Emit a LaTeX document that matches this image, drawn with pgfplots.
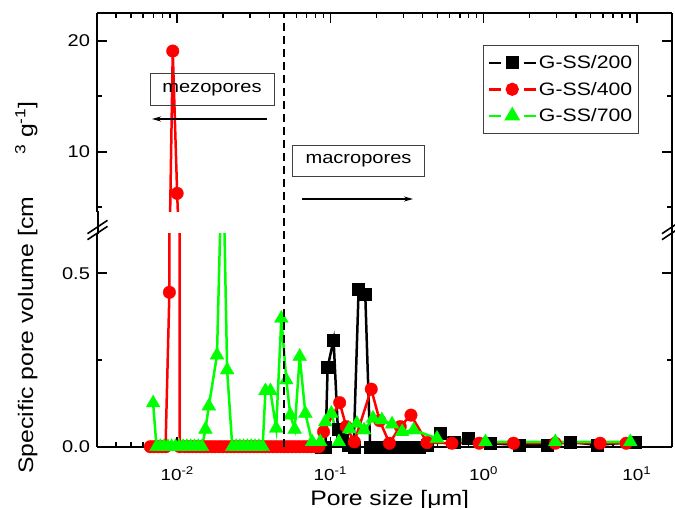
\documentclass[border=0pt]{standalone}
\usepackage{fontspec}
\setmainfont{Liberation Sans}[FakeStretch=1.18]
\usepackage{pgfplots}
\pgfplotsset{compat=1.18}
\usetikzlibrary{arrows.meta}
\definecolor{ogreen}{RGB}{0,255,0}
\definecolor{ored}{RGB}{255,0,0}
\tikzset{
  s200/.style={black, line width=2.5pt, mark=square*, mark size=6pt, mark options={line width=0.3pt}},
  s400/.style={ored, line width=2.5pt, mark=*, mark size=6.3pt, mark options={line width=0.3pt}},
  s700/.style={ogreen, line width=2.5pt, mark=triangle*, mark size=8pt, mark options={line width=0.3pt}},
}
\pgfplotsset{
  mybase/.style={scale only axis, width=574.5pt, xmin=0.00302, xmax=17,
    tick align=inside, major tick length=10pt, minor tick length=5pt,
    axis line style={line width=2pt, black},
    every tick/.style={line width=1.6pt, black},
    xticklabel style={font=\fontsize{16}{18}\selectfont},
    yticklabel style={font=\fontsize{17}{19}\selectfont},
    xtick={0.01,0.1,1,10},
    minor xtick={0.004,0.005,0.006,0.007,0.008,0.009,0.02,0.03,0.04,0.05,0.06,0.07,0.08,0.09,0.2,0.3,0.4,0.5,0.6,0.7,0.8,0.9,2,3,4,5,6,7,8,9},
  }
}
\begin{document}
\begin{tikzpicture}
% lower panel
\begin{axis}[xmode=log, mybase, name=lower, at={(97.5pt,-446.7pt)}, anchor=south west, height=213.7pt,
  ymin=0, ymax=0.616, axis x line*=bottom, axis y line*=box,
  ytick={0,0.5}, yticklabels={\mbox{0.0},\mbox{0.5}}, minor ytick={0.25},
  xticklabels={\mbox{10\textsuperscript{-2}},\mbox{10\textsuperscript{-1}},\mbox{10\textsuperscript{0}},\mbox{10\textsuperscript{1}}},
  xticklabel style={anchor=base, yshift=-34pt},
  yticklabel style={xshift=-4pt}]
\addplot[s200] coordinates {(0.087,0) (0.093,0) (0.096,0.229) (0.105,0.308) (0.112,0.05) (0.12,0.02) (0.13,0.005) (0.142,0) (0.153,0.454) (0.169,0.44) (0.182,0) (0.2,0) (0.22,0) (0.24,0) (0.265,0) (0.29,0) (0.32,0) (0.35,0) (0.38,0) (0.43,0.005) (0.522,0.038) (0.64,0.014) (0.798,0.024) (1.1,0.01) (1.7,0.005) (2.6,0.005) (3.68,0.014) (5.5,0.005) (9.78,0.014)};
\addplot[s400] coordinates {(0.00668,0) (0.00708,0) (0.0075,0) (0.00794,0) (0.0084,0) (0.0089,0.445) (0.00936,19.07) (0.0100,6.25) (0.0104,0) (0.01122,0) (0.01189,0) (0.01259,0) (0.01334,0) (0.01413,0) (0.01496,0) (0.01585,0) (0.01679,0) (0.01778,0) (0.01884,0) (0.01995,0) (0.02113,0) (0.02239,0) (0.02371,0) (0.02512,0) (0.02661,0) (0.02818,0) (0.02985,0) (0.03162,0) (0.0335,0) (0.03548,0) (0.03758,0) (0.03981,0) (0.04217,0) (0.04467,0) (0.04732,0) (0.05012,0) (0.05309,0) (0.05623,0) (0.05957,0) (0.0631,0) (0.06683,0) (0.07079,0) (0.07499,0) (0.07943,0) (0.08414,0) (0.0903,0.043) (0.115,0.127) (0.127,0.058) (0.1435,0.014) (0.185,0.166) (0.21,0.075) (0.243,0.01) (0.286,0.058) (0.336,0.091) (0.428,0.012) (0.622,0.01) (0.937,0.01) (1.57,0.01) (2.94,0.01) (5.77,0.01) (8.53,0.01)};
\addplot[s700] coordinates {(0.00697,0.126) (0.00733,0) (0.00776,0) (0.00822,0) (0.0087,0) (0.00921,0) (0.00975,0) (0.01032,0) (0.01093,0) (0.01157,0) (0.01225,0) (0.01297,0) (0.01373,0) (0.01454,0) (0.0153,0.05) (0.0161,0.117) (0.0182,0.264) (0.0198,0.9) (0.0212,0.221) (0.0229,0) (0.02425,0) (0.02567,0) (0.02718,0) (0.02878,0) (0.03047,0) (0.03226,0) (0.03416,0) (0.03617,0) (0.0377,0.161) (0.0406,0.161) (0.0443,0.053) (0.0479,0.37) (0.0516,0.192) (0.0548,0.091) (0.0585,0.05) (0.0631,0.26) (0.0687,0.096) (0.076,0.014) (0.086,0.014) (0.0927,0.071) (0.1016,0.096) (0.1137,0.014) (0.133,0.051) (0.149,0.067) (0.166,0.048) (0.19,0.082) (0.217,0.077) (0.253,0.065) (0.294,0.043) (0.35,0.048) (0.497,0.024) (1.03,0.014) (2.94,0.014) (9.08,0.014)};
\coordinate (dl) at (axis cs:0.05,0);
\end{axis}
% upper panel
\begin{axis}[xmode=log, mybase, name=upper, at={(97.5pt,-212pt)}, anchor=south west, height=198.7pt,
  ymin=4.57, ymax=22.47, axis x line*=top, axis y line*=box,
  ytick={10,20}, yticklabels={\mbox{10},\mbox{20}}, minor ytick={5,15}, xticklabels={,,,},
  yticklabel style={xshift=-4pt},
  legend image code/.code={
    \draw[#1, mark=none] (0pt,0pt) -- (12pt,0pt);
    \draw[#1, mark=none] (35pt,0pt) -- (47pt,0pt);
    \draw[#1, only marks, mark options={scale=0.85}] plot coordinates {(23.5pt,0pt)};
  },
  legend style={at={(0.671,0.8405)}, anchor=north west, draw=black!75, line width=1pt,
    font=\fontsize{18}{21}\selectfont, nodes={font=\fontsize{18}{21}\selectfont},
    row sep=8pt, inner xsep=4pt, inner ysep=8pt},
  legend cell align=left]
\addplot[s400, forget plot] coordinates {(0.0084,0) (0.0089,0.445) (0.00936,19.07) (0.0100,6.25) (0.0104,0)};
\addlegendimage{s200}
\addlegendimage{s400}
\addlegendimage{s700}
\legend{G-SS/200,G-SS/400,G-SS/700}
\coordinate (du) at (axis cs:0.05,22.47);
\end{axis}
% spines through the break
\draw[line width=2pt] (97.5pt,-211pt) -- (97.5pt,-234pt);
\draw[line width=2pt] (672pt,-211pt) -- (672pt,-234pt);
\foreach \xx in {97.5,672}{
  \draw[line width=1.6pt] (\xx pt-10pt,-233.7pt) -- (\xx pt+10pt,-220.3pt);
  \draw[line width=1.6pt] (\xx pt-10pt,-239.7pt) -- (\xx pt+10pt,-226.3pt);
}
% dashed boundary
\draw[line width=2pt, dash pattern=on 8pt off 5pt] (dl) -- (du);
% annotations
\node[draw=black!75, line width=1pt, minimum width=124pt, minimum height=32pt, inner sep=0pt,
  font=\fontsize{17}{20}\selectfont] at (212pt,-90pt) {mezopores};
\node[draw=black!75, line width=1pt, minimum width=131.6pt, minimum height=31.7pt, inner sep=0pt,
  font=\fontsize{17}{20}\selectfont] at (358.5pt,-161pt) {macropores};
\draw[line width=1.3pt, -{Stealth[length=9pt,width=5pt]}] (267pt,-119pt) -- (152pt,-119pt);
\draw[line width=1.3pt, -{Stealth[length=9pt,width=5pt]}] (302pt,-199pt) -- (413pt,-199pt);
% axis titles
\node[rotate=90, anchor=base, font=\fontsize{21}{24}\selectfont] at (33pt,-287.5pt)
  {Specific pore volume [cm\hspace{42pt}\textsuperscript{3} g\textsuperscript{-1}]};
\node[anchor=base, font=\fontsize{21}{24}\selectfont] at (389.7pt,-505pt) {Pore size [μm]};
\pgfresetboundingbox
\path[use as bounding box] (0pt,0pt) rectangle (675pt,-508pt);
\end{tikzpicture}
\end{document}
